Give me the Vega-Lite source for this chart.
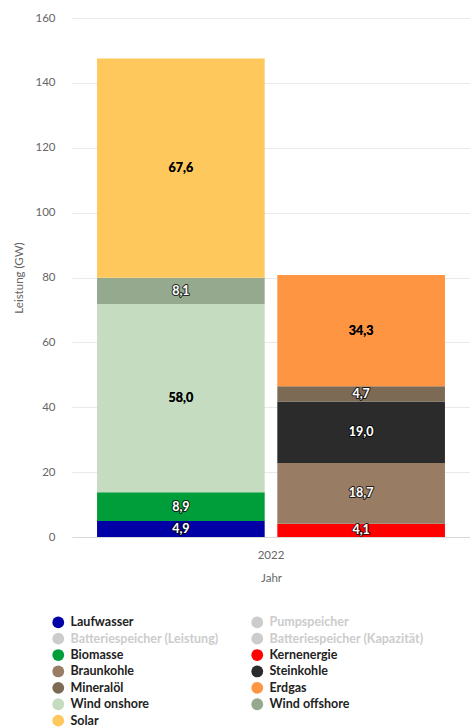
{
  "$schema": "https://vega.github.io/schema/vega-lite/v6.json",
  "width": 398,
  "height": 519,
  "autosize": {"type": "none"},
  "padding": {"left": 72, "top": 18, "right": 0, "bottom": 190},
  "background": "white",
  "config": {
    "view": {"stroke": null},
    "font": "Lato",
    "locale": {"number": {"decimal": ",", "thousands": ".", "grouping": [3], "currency": ["", " €"]}}
  },
  "data": {
    "values": [
      {"Jahr": "2022", "Gruppe": "Erneuerbar", "Quelle": "Laufwasser", "Leistung": 4.9, "Reihenfolge": 1},
      {"Jahr": "2022", "Gruppe": "Erneuerbar", "Quelle": "Biomasse", "Leistung": 8.9, "Reihenfolge": 2},
      {"Jahr": "2022", "Gruppe": "Erneuerbar", "Quelle": "Wind onshore", "Leistung": 58.0, "Reihenfolge": 3},
      {"Jahr": "2022", "Gruppe": "Erneuerbar", "Quelle": "Wind offshore", "Leistung": 8.1, "Reihenfolge": 4},
      {"Jahr": "2022", "Gruppe": "Erneuerbar", "Quelle": "Solar", "Leistung": 67.6, "Reihenfolge": 5},
      {"Jahr": "2022", "Gruppe": "Konventionell", "Quelle": "Kernenergie", "Leistung": 4.1, "Reihenfolge": 1},
      {"Jahr": "2022", "Gruppe": "Konventionell", "Quelle": "Braunkohle", "Leistung": 18.7, "Reihenfolge": 2},
      {"Jahr": "2022", "Gruppe": "Konventionell", "Quelle": "Steinkohle", "Leistung": 19.0, "Reihenfolge": 3},
      {"Jahr": "2022", "Gruppe": "Konventionell", "Quelle": "Mineralöl", "Leistung": 4.7, "Reihenfolge": 4},
      {"Jahr": "2022", "Gruppe": "Konventionell", "Quelle": "Erdgas", "Leistung": 34.3, "Reihenfolge": 5}
    ]
  },
  "encoding": {
    "x": {
      "field": "Jahr", "type": "nominal",
      "scale": {"paddingInner": 0, "paddingOuter": 0.072},
      "axis": {
        "title": "Jahr", "labelAngle": 0, "ticks": false,
        "domainColor": "#d8d8d8", "labelColor": "#666666", "labelFontSize": 11.5, "labelFont": "Lato",
        "labelPadding": 12, "titleColor": "#666666", "titleFontSize": 11.5, "titleFontWeight": "normal",
        "titleFont": "Lato", "titlePadding": 12
      }
    },
    "xOffset": {
      "field": "Gruppe", "type": "nominal", "sort": ["Erneuerbar", "Konventionell"],
      "scale": {"paddingInner": 0.07, "paddingOuter": 0}
    },
    "order": {"field": "Reihenfolge", "type": "quantitative", "sort": "ascending"}
  },
  "layer": [
    {
      "mark": {"type": "bar"},
      "encoding": {
        "y": {
          "field": "Leistung", "type": "quantitative", "stack": "zero",
          "scale": {"domain": [0, 160], "nice": false},
          "axis": {
            "title": "Leistung (GW)", "values": [0, 20, 40, 60, 80, 100, 120, 140, 160],
            "domain": false, "ticks": false, "gridColor": "#e9e9e9",
            "labelColor": "#666666", "labelFontSize": 11.5, "labelPadding": 17, "labelFont": "Lato",
            "titleColor": "#666666", "titleFontSize": 11.5, "titleFontWeight": "normal", "titleFont": "Lato",
            "titlePadding": 10
          }
        },
        "color": {
          "field": "Quelle", "type": "nominal",
          "scale": {
            "domain": ["Laufwasser", "Pumpspeicher", "Batteriespeicher (Leistung)", "Batteriespeicher (Kapazität)", "Biomasse", "Kernenergie", "Braunkohle", "Steinkohle", "Mineralöl", "Erdgas", "Wind onshore", "Wind offshore", "Solar"],
            "range": ["#0000a6", "#cccccc", "#cccccc", "#cccccc", "#009e3a", "#ff0000", "#997c64", "#2b2b2b", "#7c6a55", "#fd9543", "#c6dcc0", "#95a98f", "#ffc85c"]
          },
          "legend": {
            "title": null, "orient": "none", "legendX": -20, "legendY": 598,
            "columns": 2, "direction": "horizontal", "symbolType": "circle", "symbolSize": 140,
            "symbolStrokeWidth": 0, "labelFontSize": 12.5, "labelFontWeight": "bold", "labelFont": "Lato",
            "labelOffset": 6, "rowPadding": 3.4, "columnPadding": 32, "labelLimit": 250,
            "encode": {
              "labels": {
                "update": {
                  "fill": {"signal": "indexof(['Pumpspeicher','Batteriespeicher (Leistung)','Batteriespeicher (Kapazität)'], datum.label) >= 0 ? '#cccccc' : '#222222'"}
                }
              }
            }
          }
        }
      }
    },
    {
      "mark": {"type": "text", "font": "Lato", "fontWeight": "bold", "fontSize": 12.5, "stroke": "#000000", "strokeWidth": 2.2, "strokeJoin": "round", "baseline": "middle"},
      "encoding": {
        "y": {"field": "Leistung", "type": "quantitative", "stack": "zero", "bandPosition": 0.5},
        "text": {"field": "Leistung", "type": "quantitative", "format": ".1f"},
        "color": {"condition": {"test": "indexof(['Solar','Wind onshore','Erdgas'], datum.Quelle) >= 0", "value": "#000000"}, "value": "#ffffff"},
        "strokeOpacity": {"condition": {"test": "indexof(['Solar','Wind onshore','Erdgas'], datum.Quelle) >= 0", "value": 0}, "value": 0.75}
      }
    },
    {
      "mark": {"type": "text", "font": "Lato", "fontWeight": "bold", "fontSize": 12.5, "baseline": "middle"},
      "encoding": {
        "y": {"field": "Leistung", "type": "quantitative", "stack": "zero", "bandPosition": 0.5},
        "text": {"field": "Leistung", "type": "quantitative", "format": ".1f"},
        "color": {"condition": {"test": "indexof(['Solar','Wind onshore','Erdgas'], datum.Quelle) >= 0", "value": "#000000"}, "value": "#ffffff"}
      }
    }
  ]
}
